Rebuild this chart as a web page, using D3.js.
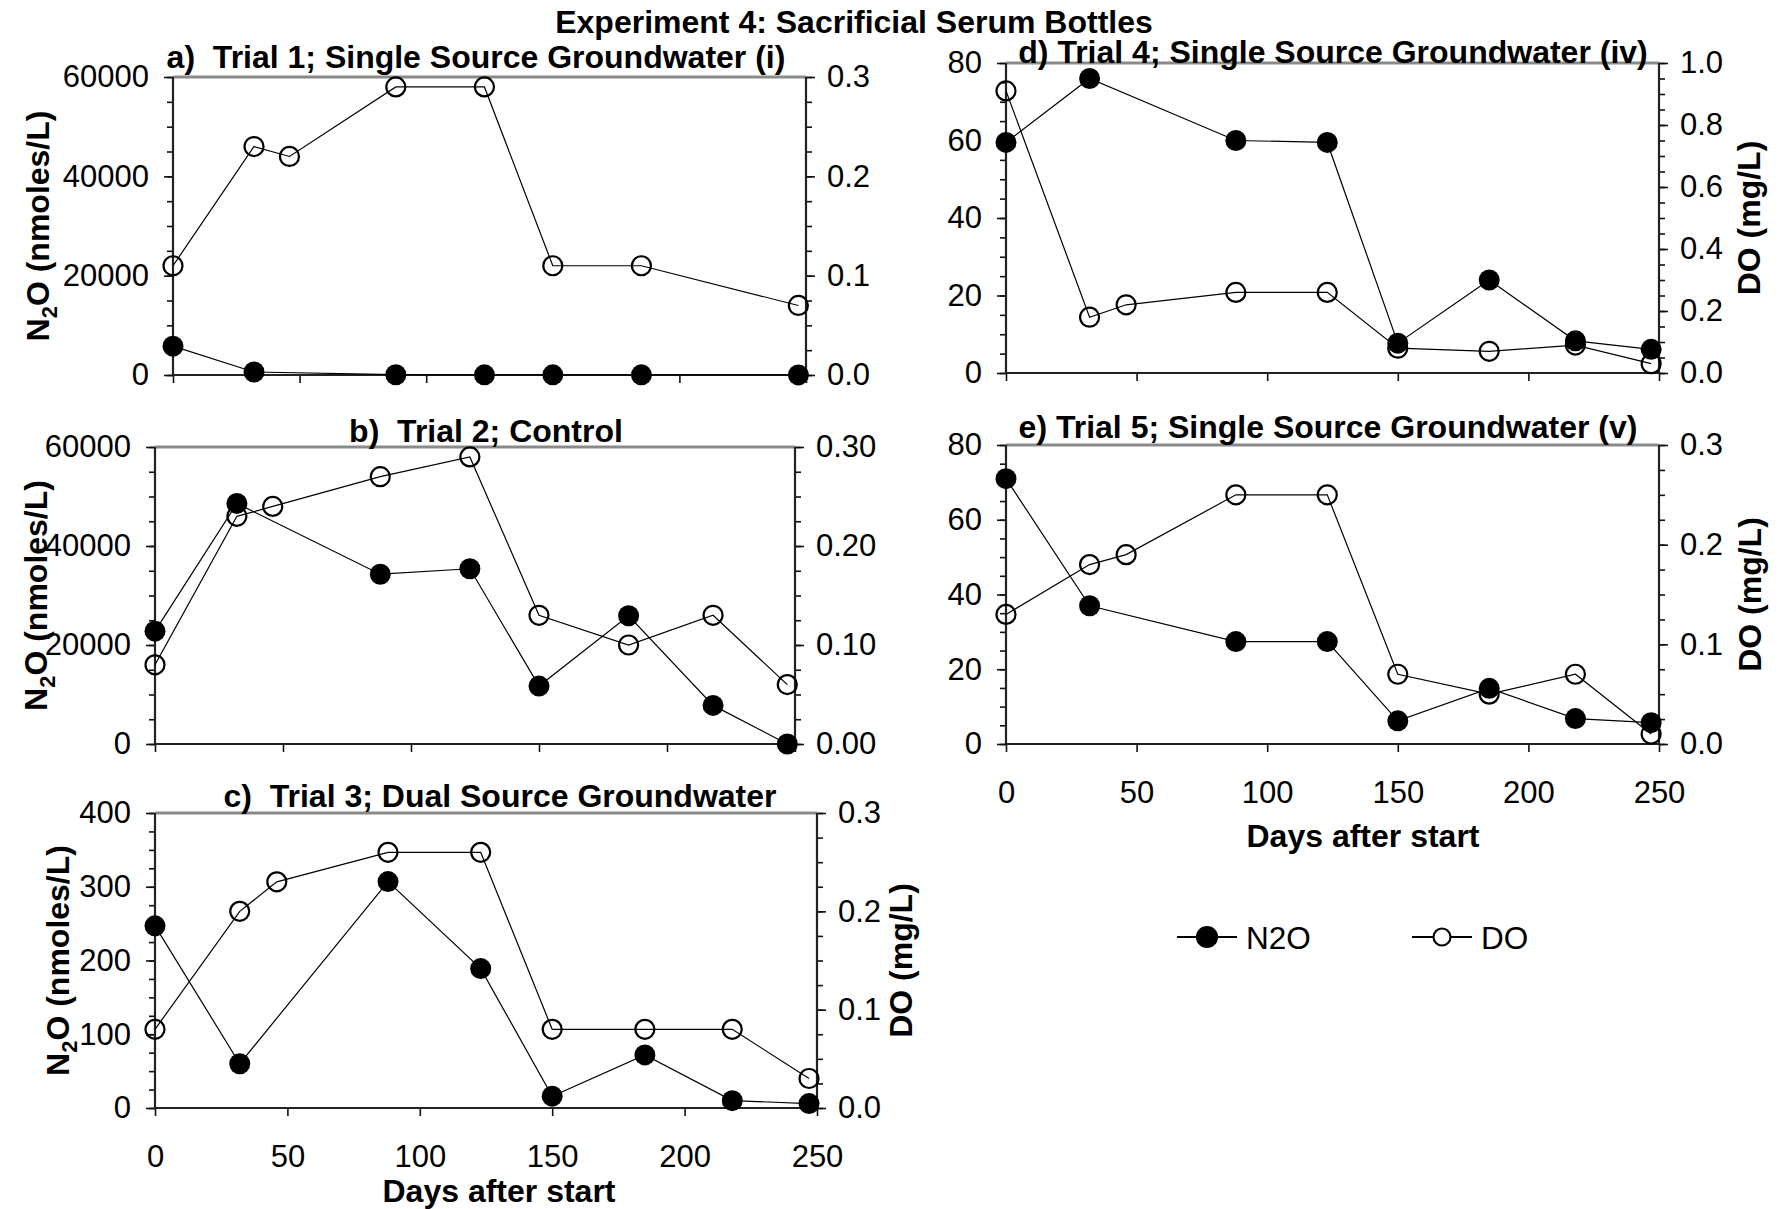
<!DOCTYPE html>
<html>
<head>
<meta charset="utf-8">
<script src="https://cdn.jsdelivr.net/npm/d3@7"></script>
<style>
  body { margin: 0; background: #fff; }
  svg { display: block; }
  text.keep-spaces { white-space: pre; }
</style>
</head>
<body>
<svg id="chart" width="1788" height="1209"></svg>
<script>
// sampling days (days after start)
const n2oDays = [0, 32, 88, 123, 150, 185, 218, 247];
const doDays = [0, 32, 46, 88, 123, 150, 185, 218, 247];
const trial1N2ODays = [0, 32, 88, 123, 150, 185, 247];
const trial1DODays = [0, 32, 46, 88, 123, 150, 185, 247];

// N2O (nmoles/L)
const trial1N2O = [5800, 600, 60, 40, 30, 30, 20];
const trial2N2O = [22800, 48600, 34300, 35400, 11700, 25900, 7800, 0];
const trial3N2O = [247, 60, 307, 189, 16, 72, 10, 6];
const trial4N2O = [59.5, 76, 60, 59.5, 7.7, 24, 8.3, 6.1];
const trial5N2O = [71, 37, 27.4, 27.4, 6.2, 14.9, 6.8, 5.7];

// DO (mg/L)
const trial1DO = [0.11, 0.23, 0.22, 0.29, 0.29, 0.11, 0.11, 0.07];
const trial2DO = [0.08, 0.23, 0.24, 0.27, 0.29, 0.13, 0.10, 0.13, 0.06];
const trial3DO = [0.08, 0.20, 0.23, 0.26, 0.26, 0.08, 0.08, 0.08, 0.03];
const trial4DO = [0.91, 0.18, 0.22, 0.26, 0.26, 0.08, 0.07, 0.09, 0.03];
const trial5DO = [0.13, 0.18, 0.19, 0.25, 0.25, 0.07, 0.05, 0.07, 0.01];

const dayTicks = [0, 50, 100, 150, 200, 250];
const seriesNames = ['N2O', 'DO'];

const font = '"Liberation Sans", Arial, Helvetica, sans-serif';
const svg = d3.select('#chart');
svg.append('rect').attr('width', 1788).attr('height', 1209).attr('fill', '#fff');

const panels = [
  { title: 'a)  Trial 1; Single Source Groundwater (i)', tx: 476, ty: 68,
    x0: 173, x1: 806, y0: 77, y1: 375,
    nDays: trial1N2ODays, n: trial1N2O, dDays: trial1DODays, d: trial1DO,
    lMax: 60000, lStep: 20000, lMinor: 5000, lFmt: 'd',
    rMax: 0.3, rStep: 0.1, rMinor: 0.025, rFmt: '.1f',
    lLabel: 38, rLabel: null, xLabels: false },
  { title: 'b)  Trial 2; Control', tx: 486, ty: 442,
    x0: 155, x1: 795, y0: 447, y1: 744,
    nDays: n2oDays, n: trial2N2O, dDays: doDays, d: trial2DO,
    lMax: 60000, lStep: 20000, lMinor: 5000, lFmt: 'd',
    rMax: 0.3, rStep: 0.1, rMinor: 0.025, rFmt: '.2f',
    lLabel: 36, rLabel: null, xLabels: false },
  { title: 'c)  Trial 3; Dual Source Groundwater', tx: 500, ty: 807,
    x0: 155, x1: 817, y0: 813, y1: 1108,
    nDays: n2oDays, n: trial3N2O, dDays: doDays, d: trial3DO,
    lMax: 400, lStep: 100, lMinor: 25, lFmt: 'd',
    rMax: 0.3, rStep: 0.1, rMinor: 0.025, rFmt: '.1f',
    lLabel: 58, rLabel: 901, xLabels: true, xTitle: 499, xTitleY: 1202 },
  { title: 'd) Trial 4; Single Source Groundwater (iv)', tx: 1333, ty: 63,
    x0: 1006, x1: 1659, y0: 63, y1: 373,
    nDays: n2oDays, n: trial4N2O, dDays: doDays, d: trial4DO,
    lMax: 80, lStep: 20, lMinor: 5, lFmt: 'd',
    rMax: 1.0, rStep: 0.2, rMinor: 0.05, rFmt: '.1f',
    lLabel: null, rLabel: 1749, xLabels: false },
  { title: 'e) Trial 5; Single Source Groundwater (v)', tx: 1328, ty: 438,
    x0: 1006, x1: 1659, y0: 445, y1: 744,
    nDays: n2oDays, n: trial5N2O, dDays: doDays, d: trial5DO,
    lMax: 80, lStep: 20, lMinor: 5, lFmt: 'd',
    rMax: 0.3, rStep: 0.1, rMinor: 0.025, rFmt: '.1f',
    lLabel: null, rLabel: 1750, xLabels: true, xTitle: 1363, xTitleY: 847 }
];

const range = (max, step) => d3.range(0, max + step / 2, step);

function styleAxis(g, size) {
  g.select('.domain').remove();
  g.selectAll('line').attr('stroke', '#111').attr('stroke-width', 1.6);
  g.selectAll('text').attr('font-family', font).attr('font-size', size).attr('fill', '#000');
}

function drawPanel(p) {
  const x = d3.scaleLinear().domain([0, 250]).range([p.x0, p.x1]);
  const yl = d3.scaleLinear().domain([0, p.lMax]).range([p.y1, p.y0]);
  const yr = d3.scaleLinear().domain([0, p.rMax]).range([p.y1, p.y0]);
  const g = svg.append('g');

  // minor ticks
  g.append('g').attr('transform', `translate(${p.x0},0)`)
    .call(d3.axisLeft(yl).tickValues(range(p.lMax, p.lMinor)).tickSize(6).tickFormat(''))
    .call(a => styleAxis(a, 31));
  g.append('g').attr('transform', `translate(${p.x1},0)`)
    .call(d3.axisRight(yr).tickValues(range(p.rMax, p.rMinor)).tickSize(6).tickFormat(''))
    .call(a => styleAxis(a, 31));

  // major ticks and labels
  g.append('g').attr('transform', `translate(${p.x0},0)`)
    .call(d3.axisLeft(yl).tickValues(range(p.lMax, p.lStep)).tickSize(9).tickPadding(15)
      .tickFormat(d3.format(p.lFmt)))
    .call(a => styleAxis(a, 31));
  g.append('g').attr('transform', `translate(${p.x1},0)`)
    .call(d3.axisRight(yr).tickValues(range(p.rMax, p.rStep)).tickSize(9).tickPadding(12)
      .tickFormat(d3.format(p.rFmt)))
    .call(a => styleAxis(a, 31));
  g.append('g').attr('transform', `translate(0,${p.y1})`)
    .call(d3.axisBottom(x).tickValues(dayTicks).tickSize(8).tickPadding(29)
      .tickFormat(p.xLabels ? d3.format('d') : ''))
    .call(a => styleAxis(a, 31));

  // frame
  g.append('line').attr('x1', p.x0).attr('x2', p.x1).attr('y1', p.y0).attr('y2', p.y0)
    .attr('stroke', '#8a8a8a').attr('stroke-width', 3);
  g.append('line').attr('x1', p.x0).attr('x2', p.x1).attr('y1', p.y1).attr('y2', p.y1)
    .attr('stroke', '#222').attr('stroke-width', 2.2);
  g.append('line').attr('x1', p.x0).attr('x2', p.x0).attr('y1', p.y0).attr('y2', p.y1)
    .attr('stroke', '#222').attr('stroke-width', 2.2);
  g.append('line').attr('x1', p.x1).attr('x2', p.x1).attr('y1', p.y0).attr('y2', p.y1)
    .attr('stroke', '#222').attr('stroke-width', 2.2);

  const doPts = p.dDays.map((day, i) => [day, p.d[i]]);
  const nPts = p.nDays.map((day, i) => [day, p.n[i]]);

  // DO series (open circles)
  g.append('path').datum(doPts)
    .attr('fill', 'none').attr('stroke', '#000').attr('stroke-width', 1.2)
    .attr('d', d3.line().x(d => x(d[0])).y(d => yr(d[1])));
  g.append('g').selectAll('circle').data(doPts).join('circle')
    .attr('cx', d => x(d[0])).attr('cy', d => yr(d[1])).attr('r', 9.5)
    .attr('fill', 'none').attr('stroke', '#000').attr('stroke-width', 2.2);

  // N2O series (filled circles)
  g.append('path').datum(nPts)
    .attr('fill', 'none').attr('stroke', '#000').attr('stroke-width', 1.2)
    .attr('d', d3.line().x(d => x(d[0])).y(d => yl(d[1])));
  g.append('g').selectAll('circle').data(nPts).join('circle')
    .attr('cx', d => x(d[0])).attr('cy', d => yl(d[1])).attr('r', 10.5)
    .attr('fill', '#000');

  // titles
  g.append('text').attr('class', 'keep-spaces')
    .attr('x', p.tx).attr('y', p.ty).attr('text-anchor', 'middle')
    .attr('font-family', font).attr('font-weight', 'bold').attr('font-size', 32)
    .text(p.title);

  const cy = (p.y0 + p.y1) / 2;
  if (p.lLabel !== null) {
    const t = g.append('text')
      .attr('transform', `translate(${p.lLabel},${cy}) rotate(-90)`)
      .attr('text-anchor', 'middle').attr('dy', '0.35em')
      .attr('font-family', font).attr('font-weight', 'bold').attr('font-size', 32);
    t.append('tspan').text('N');
    t.append('tspan').attr('font-size', 22).attr('dy', 8).text('2');
    t.append('tspan').attr('dy', -8).text('O (nmoles/L)');
  }
  if (p.rLabel !== null) {
    g.append('text')
      .attr('transform', `translate(${p.rLabel},${cy}) rotate(-90)`)
      .attr('text-anchor', 'middle').attr('dy', '0.35em')
      .attr('font-family', font).attr('font-weight', 'bold').attr('font-size', 32)
      .text('DO (mg/L)');
  }
  if (p.xTitle) {
    g.append('text').attr('x', p.xTitle).attr('y', p.xTitleY).attr('text-anchor', 'middle')
      .attr('font-family', font).attr('font-weight', 'bold').attr('font-size', 32)
      .text('Days after start');
  }
}

panels.forEach(drawPanel);

svg.append('text').attr('x', 854).attr('y', 33).attr('text-anchor', 'middle')
  .attr('font-family', font).attr('font-weight', 'bold').attr('font-size', 32)
  .text('Experiment 4: Sacrificial Serum Bottles');

// legend
const legend = svg.append('g');
const legendX = [1177, 1412];
seriesNames.forEach((name, i) => {
  const lx = legendX[i];
  const row = legend.append('g').attr('transform', `translate(${lx},937)`);
  row.append('line').attr('x1', 0).attr('x2', 60).attr('stroke', '#000').attr('stroke-width', 2);
  row.append('circle').attr('cx', 30).attr('r', i === 0 ? 10 : 8.5)
    .attr('fill', i === 0 ? '#000' : '#fff').attr('stroke', '#000').attr('stroke-width', 2.2);
  row.append('text').attr('x', 69).attr('y', 12)
    .attr('font-family', font).attr('font-size', 31.5).text(name);
});
</script>
</body>
</html>
